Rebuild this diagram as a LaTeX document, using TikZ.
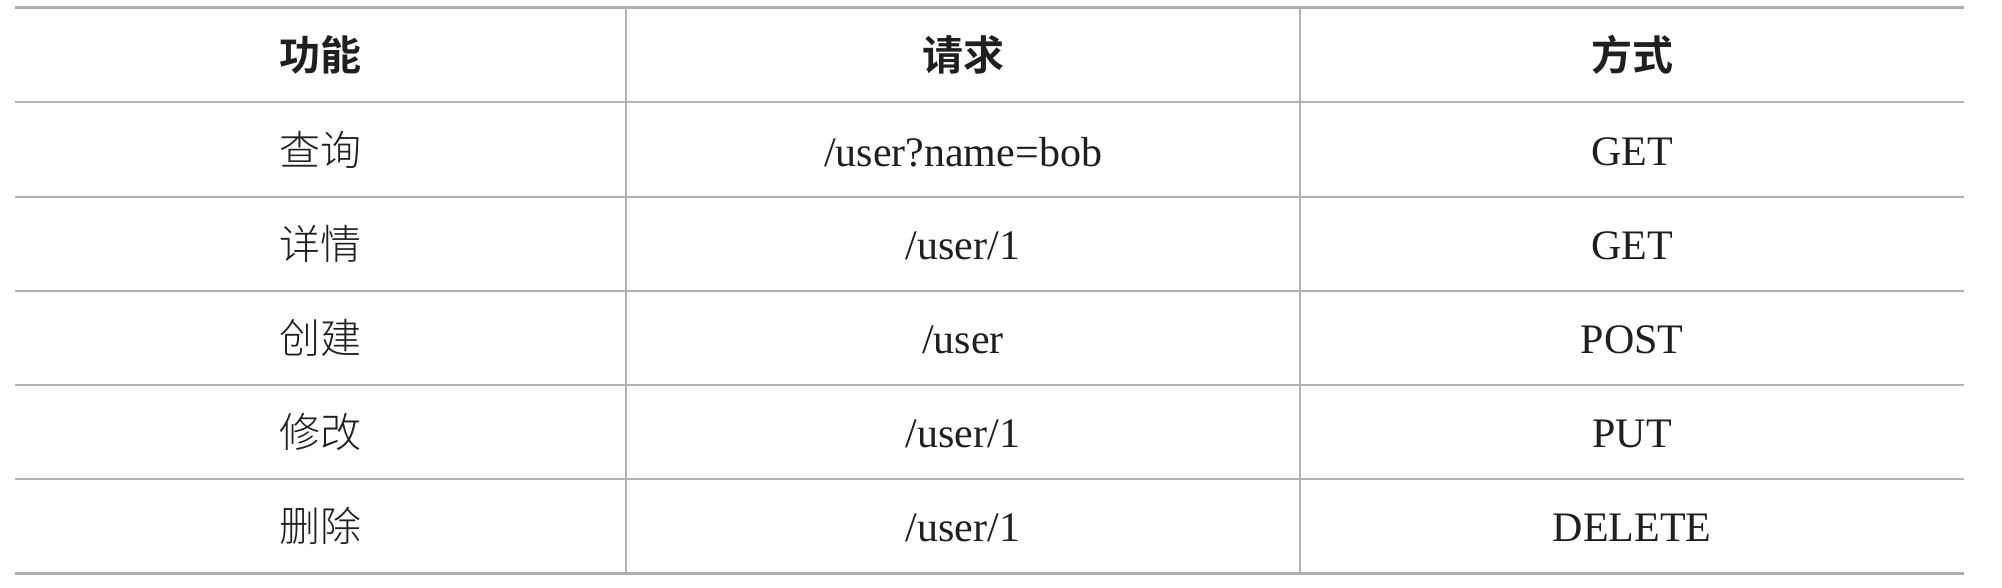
\documentclass[tikz,border=0pt]{standalone}
\usepackage{fontspec}
\setmainfont{Liberation Serif}
\newfontfamily\cjk{Noto Sans CJK SC Light}
\newfontfamily\cjkb{Noto Sans CJK SC Bold}
\begin{document}
\begin{tikzpicture}[x=1pt,y=-1pt,
  rulethick/.style={draw=black!32,line width=3pt},
  rulethin/.style={draw=black!30,line width=2pt},
  cell/.style={text=black!88,font=\fontsize{42}{50}\selectfont,inner sep=0pt,anchor=center},
  hcell/.style={cell,font=\fontsize{41}{50}\selectfont\cjkb},
  zcell/.style={cell,font=\fontsize{41}{50}\selectfont\cjk}]
\useasboundingbox (0,0) rectangle (2002,588);
\fill[white] (0,0) rectangle (2002,588);
% rules
\draw[rulethick] (15,8) -- (1964,8);
\foreach \y in {102,197,291,385,479} \draw[rulethin] (15,\y) -- (1964,\y);
\draw[rulethick] (15,573) -- (1964,573);
\draw[rulethin] (626,8) -- (626,573);
\draw[rulethin] (1300,8) -- (1300,573);
% header
\node[hcell] (h1) at (320,55) {功能};
\node[hcell] (h2) at (963,55) {请求};
\node[hcell] (h3) at (1632,55) {方式};
% rows
\node[zcell] (a1) at (320,150) {查询};
\node[cell] (b1) at (963,152) {/user?name=bob};
\node[cell] (c1) at (1632,152) {GET};
\node[zcell] (a2) at (320,244) {详情};
\node[cell] (b2) at (963,246) {/user/1};
\node[cell] (c2) at (1632,246) {GET};
\node[zcell] (a3) at (320,338) {创建};
\node[cell] (b3) at (963,340) {/user};
\node[cell] (c3) at (1632,340) {POST};
\node[zcell] (a4) at (320,432) {修改};
\node[cell] (b4) at (963,434) {/user/1};
\node[cell] (c4) at (1632,434) {PUT};
\node[zcell] (a5) at (320,526) {删除};
\node[cell] (b5) at (963,528) {/user/1};
\node[cell] (c5) at (1632,528) {DELETE};
\end{tikzpicture}
\end{document}
